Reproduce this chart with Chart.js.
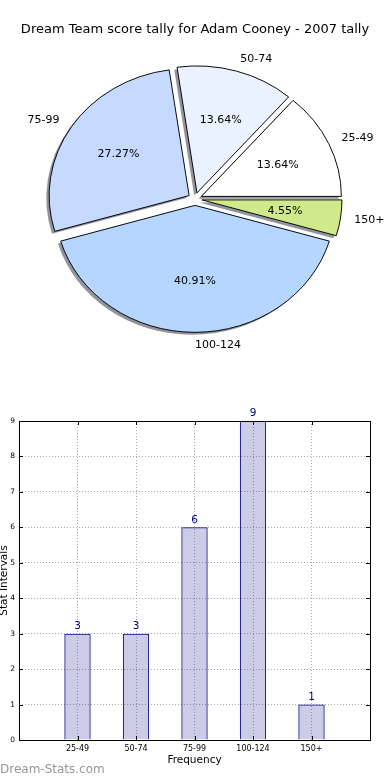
<!DOCTYPE html>
<html>
<head>
<meta charset="utf-8">
<script src="https://cdn.jsdelivr.net/npm/chart.js@4/dist/chart.umd.min.js"></script>
<style>
  body { margin: 0; background: #fff; }
  #wrap { position: relative; width: 390px; height: 780px; overflow: hidden; }
  #pie { position: absolute; left: 0; top: 0; }
  #bar { position: absolute; left: 0; top: 400px; }
  #mark { position: absolute; left: 0; top: 762px; font: 12px "DejaVu Sans", sans-serif; color: #969696; }
</style>
</head>
<body>
<div id="wrap">
  <canvas id="pie" width="390" height="400"></canvas>
  <canvas id="bar" width="390" height="380"></canvas>
  <div id="mark">Dream-Stats.com</div>
</div>
<script>
// score bands and how many games fell in each
const categories = ['25-49', '50-74', '75-99', '100-124', '150+'];
const counts = [3, 3, 6, 9, 1];
const sliceColors = ['#ffffff', '#eaf2ff', '#c6d9ff', '#b4d6ff', '#cfe98b'];
const yTicks = [0, 1, 2, 3, 4, 5, 6, 7, 8, 9];

const total = counts.reduce((a, b) => a + b, 0);
const FONT = '"DejaVu Sans", sans-serif';
const ySquash = 0.907;   // the reference pie is a bit flatter than a circle
const explode = 7;

// matplotlib goes counter-clockwise from 3 o'clock, Chart.js clockwise -> reverse
const pieLabels = categories.slice().reverse();
const pieCounts = counts.slice().reverse();
const pieColors = sliceColors.slice().reverse();

// draws each wedge pushed out along its middle angle, shadows underneath
function drawWedges(chart, shadow) {
  const ctx = chart.ctx;
  const meta = chart.getDatasetMeta(0);
  meta.data.forEach(el => {
    const p = el.getProps(['x', 'y', 'startAngle', 'endAngle'], true);
    const mid = (p.startAngle + p.endAngle) / 2;
    ctx.save();
    if (shadow) ctx.translate(-2.8, 2.5);
    ctx.translate(p.x, p.y);
    ctx.scale(1, ySquash);
    ctx.translate(Math.cos(mid) * explode, Math.sin(mid) * explode);
    ctx.translate(-p.x, -p.y);
    if (shadow) {
      const orig = el.options;
      el.options = Object.assign({}, orig, { backgroundColor: 'rgba(40,40,60,0.5)', borderWidth: 0 });
      el.draw(ctx);
      el.options = orig;
    } else {
      el.draw(ctx);
    }
    ctx.restore();
  });
}

const piePlugin = {
  id: 'pieLook',
  beforeDatasetsDraw(chart) {
    drawWedges(chart, true);
    drawWedges(chart, false);
    return false;
  },
  afterDraw(chart) {
    const ctx = chart.ctx;
    const meta = chart.getDatasetMeta(0);
    ctx.save();
    ctx.font = '11px ' + FONT;
    ctx.fillStyle = '#000';
    ctx.textBaseline = 'middle';
    meta.data.forEach((el, i) => {
      const p = el.getProps(['x', 'y', 'startAngle', 'endAngle', 'outerRadius'], true);
      const mid = (p.startAngle + p.endAngle) / 2;
      const c = Math.cos(mid), s = Math.sin(mid);
      const rl = p.outerRadius * 1.1 + explode;
      ctx.textAlign = c > -0.01 ? 'left' : 'right';
      ctx.fillText(pieLabels[i], p.x + rl * c, p.y + rl * s * ySquash);
      const rp = p.outerRadius * 0.6 + explode;
      ctx.textAlign = 'center';
      const pct = (pieCounts[i] / total * 100).toFixed(2) + '%';
      ctx.fillText(pct, p.x + rp * c, p.y + rp * s * ySquash);
    });
    ctx.restore();
  }
};

new Chart(document.getElementById('pie'), {
  type: 'pie',
  data: {
    labels: pieLabels,
    datasets: [{
      data: pieCounts,
      backgroundColor: pieColors,
      borderColor: '#000',
      borderWidth: 1,
      offset: 0
    }]
  },
  options: {
    responsive: false,
    animation: false,
    rotation: 90,
    radius: 140,
    layout: { padding: { bottom: 39.6 } },
    plugins: {
      legend: { display: false },
      tooltip: { enabled: false },
      title: {
        display: true,
        text: 'Dream Team score tally for Adam Cooney - 2007 tally',
        color: '#000',
        font: { family: FONT, size: 13, weight: 'normal' },
        padding: { top: 22, bottom: 0 }
      }
    }
  },
  plugins: [piePlugin]
});

const barPlugin = {
  id: 'barLook',
  afterDatasetsDraw(chart) {
    const ctx = chart.ctx;
    ctx.save();
    ctx.font = '10.5px ' + FONT;
    ctx.fillStyle = '#000080';
    ctx.textAlign = 'center';
    ctx.textBaseline = 'bottom';
    chart.getDatasetMeta(0).data.forEach((el, i) => {
      ctx.fillText(String(counts[i]), el.x, el.y - 2);
    });
    ctx.restore();
  },
  afterDraw(chart) {
    const ctx = chart.ctx;
    const a = chart.chartArea;
    const xs = chart.scales.x, ys = chart.scales.y;
    ctx.save();
    ctx.strokeStyle = '#000';
    ctx.lineWidth = 1;
    ctx.beginPath();
    yTicks.forEach(v => {
      const y = Math.round(ys.getPixelForValue(v)) + 0.5;
      ctx.moveTo(a.left, y); ctx.lineTo(a.left + 4, y);
      ctx.moveTo(a.right, y); ctx.lineTo(a.right - 4, y);
    });
    categories.forEach((c, i) => {
      const x = Math.round(xs.getPixelForValue(i + 1)) + 0.5;
      ctx.moveTo(x, a.bottom); ctx.lineTo(x, a.bottom - 4);
      ctx.moveTo(x, a.top); ctx.lineTo(x, a.top + 4);
    });
    ctx.stroke();
    ctx.strokeRect(Math.round(a.left) + 0.5, Math.round(a.top) + 0.5,
      Math.round(a.right - a.left), Math.round(a.bottom - a.top));
    ctx.restore();
  }
};

new Chart(document.getElementById('bar'), {
  type: 'bar',
  data: {
    datasets: [{
      data: categories.map((c, i) => ({ x: i + 1, y: counts[i] })),
      backgroundColor: 'rgba(0,0,128,0.2)',
      borderColor: '#000080',
      borderWidth: 1,
      barPercentage: 0.45,
      categoryPercentage: 1
    }]
  },
  options: {
    responsive: false,
    animation: false,
    layout: { padding: { top: 21, right: 20, left: 0, bottom: 0 } },
    plugins: { legend: { display: false }, tooltip: { enabled: false } },
    scales: {
      x: {
        type: 'linear',
        min: 0,
        max: categories.length + 1,
        offset: false,
        z: 1,
        afterFit(scale) { scale.height = 40; },
        grid: { color: '#aaa', lineWidth: 1, drawTicks: false, offset: false },
        border: { display: false, dash: [1, 2] },
        ticks: {
          stepSize: 1,
          autoSkip: false,
          maxRotation: 0,
          padding: 4,
          color: '#000',
          font: { family: FONT, size: 8 },
          callback: v => categories[v - 1] || ''
        },
        title: {
          display: true,
          text: 'Frequency',
          color: '#000',
          font: { family: FONT, size: 10.5 },
          padding: { top: 0, bottom: 13 }
        }
      },
      y: {
        min: 0,
        max: 9,
        z: 1,
        afterFit(scale) { scale.width = 19; },
        grid: { color: '#aaa', lineWidth: 1, drawTicks: false },
        border: { display: false, dash: [1, 2] },
        ticks: {
          stepSize: 1,
          padding: 4,
          color: '#000',
          font: { family: FONT, size: 7.5 },
          callback: v => yTicks.includes(v) ? String(v) : ''
        },
        title: {
          display: true,
          text: 'Stat Intervals',
          color: '#000',
          font: { family: FONT, size: 10.5, lineHeight: 1 },
          padding: { top: -1, bottom: 0 }
        }
      }
    }
  },
  plugins: [barPlugin]
});
</script>
</body>
</html>
